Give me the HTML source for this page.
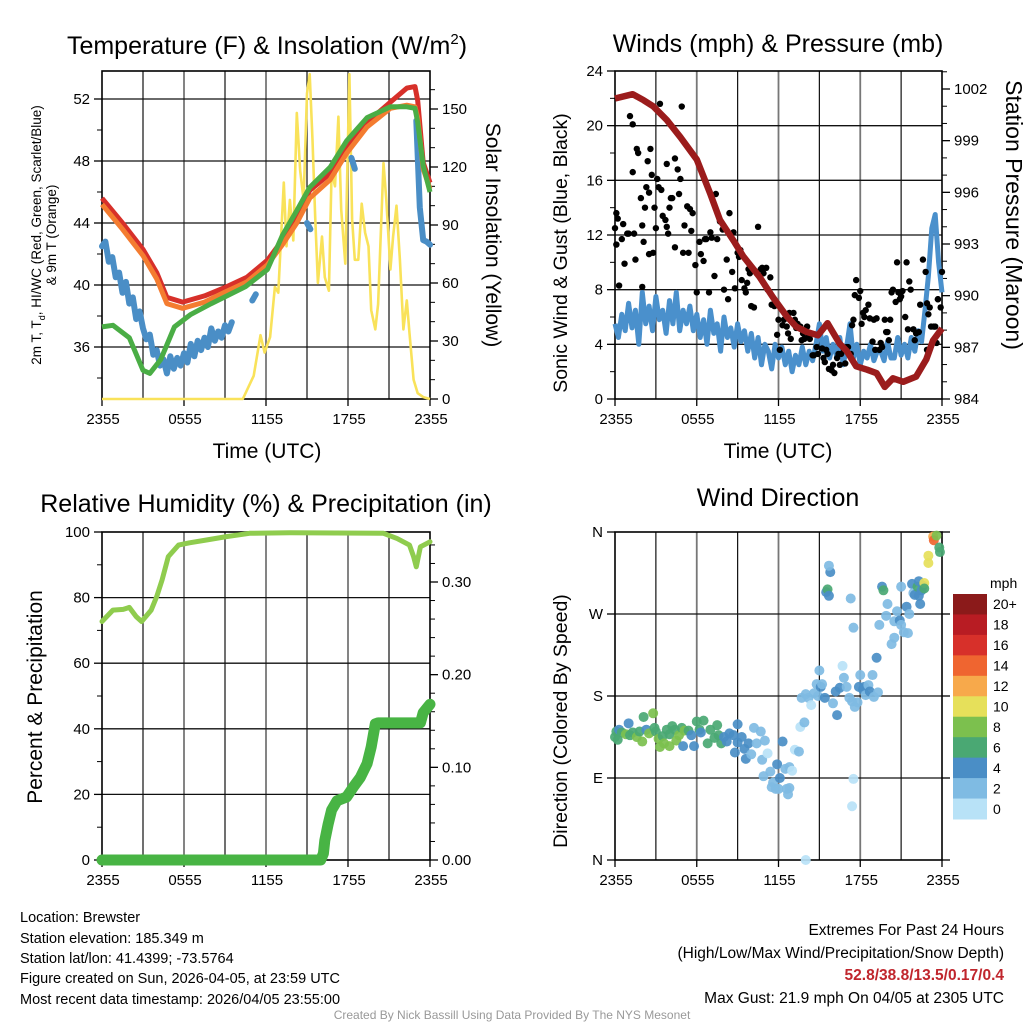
<!DOCTYPE html>
<html><head><meta charset="utf-8"><style>
html,body{margin:0;padding:0;background:#fff;}
svg{display:block;font-family:"Liberation Sans",sans-serif;}
</style></head><body>
<svg id="chart" xmlns="http://www.w3.org/2000/svg" width="1024" height="1024" viewBox="0 0 1024 1024">
<rect width="1024" height="1024" fill="#fff"/>
<text x="267" y="54" font-size="25" text-anchor="middle">Temperature (F) &amp; Insolation (W/m<tspan dy="-10" font-size="15">2</tspan><tspan dy="10">)</tspan></text>
<text x="778" y="52" font-size="25" text-anchor="middle">Winds (mph) &amp; Pressure (mb)</text>
<text x="266" y="512" font-size="25" text-anchor="middle">Relative Humidity (%) &amp; Precipitation (in)</text>
<text x="778" y="506" font-size="25" text-anchor="middle">Wind Direction</text>
<text x="267" y="458" font-size="21" text-anchor="middle">Time (UTC)</text>
<text x="778" y="458" font-size="21" text-anchor="middle">Time (UTC)</text>
<text transform="translate(41,235) rotate(-90)" font-size="13.5" text-anchor="middle">2m T, T<tspan dy="4" font-size="9">d</tspan><tspan dy="-4">, HI/WC (Red, Green, Scarlet/Blue)</tspan></text>
<text transform="translate(56,235) rotate(-90)" font-size="13.5" text-anchor="middle">&amp; 9m T (Orange)</text>
<text transform="translate(486,235) rotate(90)" font-size="21" text-anchor="middle">Solar Insolation (Yellow)</text>
<text transform="translate(567,253) rotate(-90)" font-size="19.5" text-anchor="middle">Sonic Wind &amp; Gust (Blue, Black)</text>
<text transform="translate(1006,215) rotate(90)" font-size="23" text-anchor="middle">Station Pressure (Maroon)</text>
<text transform="translate(42,697) rotate(-90)" font-size="21" text-anchor="middle">Percent &amp; Precipitation</text>
<text transform="translate(567,721) rotate(-90)" font-size="19.5" text-anchor="middle">Direction (Colored By Speed)</text>
<g font-size="14.5">
<text x="20" y="922">Location: Brewster</text>
<text x="20" y="943">Station elevation: 185.349 m</text>
<text x="20" y="963">Station lat/lon: 41.4399; -73.5764</text>
<text x="20" y="983">Figure created on Sun, 2026-04-05, at 23:59 UTC</text>
<text x="20" y="1004">Most recent data timestamp: 2026/04/05 23:55:00</text>
</g>
<g font-size="15.5" text-anchor="end">
<text x="1004" y="935">Extremes For Past 24 Hours</text>
<text x="1004" y="958">(High/Low/Max Wind/Precipitation/Snow Depth)</text>
<text x="1004" y="980" fill="#c0262d" font-weight="bold">52.8/38.8/13.5/0.17/0.4</text>
<text x="1004" y="1003">Max Gust: 21.9 mph On 04/05 at 2305 UTC</text>
</g>
<text x="512" y="1019" font-size="12" fill="#999" text-anchor="middle">Created By Nick Bassill Using Data Provided By The NYS Mesonet</text>
</svg>
<script>
// ---------- data ----------
const timeTickLabels = ["2355","0555","1155","1755","2355"];
const tempTickLabels = [36,40,44,48,52];
const insolTickLabels = [0,30,60,90,120,150];
const windTickLabels = [0,4,8,12,16,20,24];
const presTickLabels = [984,987,990,993,996,999,1002];
const rhTickLabels = [0,20,40,60,80,100];
const precipTickLabels = [0,0.1,0.2,0.3];
const dirTickLabels = ["N","E","S","W","N"];
const speedBins = ["0","2","4","6","8","10","12","14","16","18","20+"];

const redTimes = [0,1.5,3,4,4.75,5.9,7.5,8.9,10.6,12.1,13.2,14.25,15.2,16.7,17.9,19.4,21.1,22.3,22.9,23.1,23.5,24];
const redVals  = [45.6,44.0,42.3,40.8,39.2,38.9,39.3,39.8,40.5,41.6,42.9,44.4,46.1,47.2,48.9,50.5,51.8,52.7,52.8,51.9,47.9,46.6];
const orangeTimes = [0,1.5,3,4,4.75,5.9,7.5,8.9,10.6,12.1,13.2,14.25,15.2,16.7,17.9,19.4,21.1,22.3,22.9,23.1,23.5,24];
const orangeVals  = [45.2,43.6,41.9,40.4,38.8,38.5,38.9,39.5,40.2,41.3,42.6,44.0,45.6,46.8,48.5,50.2,51.4,51.6,51.5,50.8,47.5,46.2];
const greenTimes = [0,0.8,2,3,3.5,4.3,5.3,6.5,8,10.5,12.1,13.2,14.25,15.2,16.7,17.9,19.4,21.1,22.3,22.9,23.1,23.5,24];
const greenVals  = [37.3,37.4,36.6,34.5,34.3,35.2,37.3,38.1,38.8,39.9,41.0,43.2,44.8,46.3,47.6,49.3,50.8,51.5,51.5,51.4,50.5,47.7,46.0];
const dewVals = [42.5,42.8,41.5,41.8,40.5,40.8,39.5,40.2,38.8,39.2,37.8,38.3,37.2,
 36.5,36.8,35.5,35.8,34.8,35.2,34.3,35.4,34.6,35.3,34.8,35.6,
 35.0,36.2,35.4,36.4,35.8,36.6,36.0,37.2,36.4,37.0,36.6,37.4,
 37.0,37.6,null,38.0,null,38.4,null,39.0,39.4,null,null,null,
 null,null,null,null,null,null,null,null,null,null,null,44.0,
 43.6,null,null,null,null,null,null,null,null,null,null,null,
 48.2,47.5,null,null,null,null,null,49.0,null,null,null,null,
 null,null,null,null,null,null,null,50.6,45.0,42.9,42.8,42.6];
const insolTimes = [0,10.3,11.1,11.6,11.9,12.3,12.65,12.9,13.3,13.5,13.75,14,14.25,14.5,14.75,15,15.2,15.4,15.6,15.8,16.1,16.3,16.6,16.8,17.05,17.3,17.5,17.8,18.1,18.3,18.5,18.75,19,19.25,19.5,19.7,20,20.2,20.6,20.8,21.1,21.3,21.55,21.8,22.05,22.3,22.5,22.8,23.1,23.5,24];
const insolVals  = [0,0,12,33,24,32,58,55,112,79,103,82,148,118,103,158,168,134,94,60,84,63,56,118,110,146,98,70,168,93,72,72,101,86,79,46,36,49,122,103,67,84,100,72,36,51,34,10,3,1,0];

const windVals = [5.5,4.5,6.2,5,7,5.2,6.5,4,7.8,5.5,6.8,5,7.5,5.8,6.5,4.8,7.2,5.5,7.8,5,6.5,
 5.5,6.8,5,6.2,4.5,5.8,4,6.5,4.8,5.5,3.5,6,4.5,5.2,3.8,5.5,4.2,5,3.5,
 4.8,3,4.5,2.5,4,3.5,2.2,4,3,3.8,2.5,3.5,2,3.2,2.5,3.8,2.5,3.5,2.8,
 4,5.5,3.5,4.5,3,4,3.2,4.5,2.5,3.8,5.5,3,4,2.5,3.5,3,4,2.8,3.5,3.5,2.8,4.2,3,
 3,4.5,3.2,4,3,4.5,3.5,5,4.2,6.5,9,12.5,13.5,10,7.8];
const presTimes = [0,1.3,2.1,2.8,3.8,4.8,6,7,7.7,8.7,9.4,10.6,11.6,12.6,13.3,14.05,14.9,15.6,16.5,17,17.7,18.5,19.2,19.8,20.4,21.15,22.1,22.85,23.35,24];
const presVals  = [1001.45,1001.7,1001.35,1001.0,1000.2,999.2,997.9,995.9,994.4,993.2,992.3,991.1,989.9,988.8,988.2,987.9,987.7,988.4,987.2,986.8,985.9,985.7,985.5,984.7,985.2,985.0,985.3,986.3,987.4,988.1];
const gustTimes = [0,0.1,0.1,0.2,0.3,0.5,0.6,0.7,0.9,1.0,1.1,1.3,1.3,1.4,1.5,1.6,1.7,1.9,2.0,2.0,2.1,2.2,2.3,2.4,2.5,2.5,2.6,2.7,2.8,2.9,3.0,3.1,3.2,3.3,3.4,3.5,3.7,3.8,3.8,3.9,4.0,4.1,4.2,4.4,4.4,4.6,4.7,4.8,4.9,5.0,5.1,5.3,5.4,5.5,5.6,5.7,5.9,6.0,6.2,6.3,6.5,6.6,6.7,6.9,7.0,7.1,7.3,7.4,7.5,7.7,7.9,8.0,8.2,8.3,8.4,8.6,8.7,8.8,9.0,9.1,9.2,9.3,9.5,9.6,9.7,9.8,9.9,10.0,10.2,10.4,10.5,10.7,10.8,10.9,11.1,11.2,11.4,11.5,11.6,11.7,11.9,12.0,12.1,12.3,12.4,12.6,12.7,12.8,12.9,13.1,13.2,13.3,13.4,13.6,13.7,13.8,13.9,14.1,14.2,14.3,14.5,14.6,14.8,14.9,15.2,15.3,15.4,15.5,15.6,15.7,15.9,16.0,16.1,16.3,16.4,16.5,16.6,16.8,16.9,17.0,17.1,17.3,17.4,17.5,17.6,17.7,17.9,18.0,18.1,18.2,18.3,18.4,18.6,18.7,18.9,19.0,19.1,19.2,19.4,19.5,19.6,19.8,19.9,20.0,20.1,20.2,20.3,20.4,20.6,20.7,20.8,20.9,21.0,21.1,21.3,21.4,21.5,21.6,21.7,21.9,22.0,22.1,22.3,22.4,22.6,22.8,22.9,22.9,23.0,23.1,23.2,23.4,23.5,23.6,23.7,23.7,23.9,24.0];
const gustVals = [12.5,13.6,11.3,13.2,8.3,11.7,12.8,9.9,12.1,12.1,20.7,16.6,20.1,12.1,10.2,18.3,18,14.7,12.7,8.2,11.5,14,15.5,17.4,10.6,15.1,18.3,16.4,10.7,14,12.5,16.1,15.5,21.6,15.3,13.4,13.1,12.6,17.2,12.1,14,14.7,14.7,11.1,17.6,16.8,15,16.1,21.4,10.7,12.7,14.1,10.7,13.9,12.3,13.6,9.8,7.8,11.5,10.6,10.1,11.7,11.7,7.8,12.2,11.8,9,15,11.7,13,12.4,8,10.2,7.3,13.6,9.3,12.2,8.1,10.7,10.4,10.9,8.7,8.1,7.8,8.5,9.5,9.2,6.8,6.7,9.2,12.6,9.5,9.6,9.2,9.6,8,8.9,6.9,6.9,6.8,4.7,5.8,3.6,5.4,5.8,5.3,4.8,6.3,4.4,6.3,5.8,5.2,5.5,5.3,4.3,4.8,4.4,5.3,4.6,4.4,3.2,3.2,3.8,3.3,3.7,3,2.7,3.6,3.3,2.2,2.1,2.5,1.9,3,3.3,2.5,3.3,3.6,2.6,3.8,3.8,3.3,5.4,5.8,7.6,8.7,7.4,7.9,5.5,6.3,6,6.5,6.9,5.9,4.2,5.8,3.6,5.9,3.6,4.1,3.8,5.8,4.9,4.9,4.3,5.8,7.8,8,7.1,10,7.8,7.3,7.5,7.9,6,10,5.1,8.6,8,5.1,4.3,4.8,4.9,6.9,10.2,9.3,3.6,7,6.2,6.7,5.3,5.3,5.3,4.1,7.3,7.3,6.7,9.3,7.8,5.5,8.4,8.5,6.8,8,6.7,8.6,15.2,14.1,18.6,18.9,20.7,21.9,21.4,15.9,16.9,17.7,14.7,13.7,13.7,12.2];

const rhTimes = [0,0.8,1.55,2,2.5,2.9,3.6,4,4.4,4.85,5.6,6.4,7.7,9.1,10.8,13.75,20.6,21.6,22.5,22.8,23,23.3,24];
const rhVals  = [72.7,76.2,76.4,77,74.2,72.7,76.2,80.3,85.4,92.5,96,96.7,97.6,98.6,99.6,99.8,99.6,98,96,92.5,89.4,95.5,97];
const precipTimes = [0,16.0,16.2,16.3,16.55,16.8,17.2,17.9,18.4,18.9,19.4,19.7,20,20.2,23.3,23.5,24];
const precipVals  = [0,0,0.007,0.021,0.039,0.054,0.064,0.068,0.079,0.089,0.104,0.122,0.147,0.148,0.148,0.159,0.168];

const dirTimes = [0,0.1,0.2,0.3,0.5,0.8,1,1.1,1.3,1.6,1.8,2,2.1,2.3,2.5,2.8,2.9,3,3.2,3.3,3.5,3.6,3.8,4,4,4.2,4.4,4.5,4.7,4.9,5,5.1,5.4,5.6,5.8,6,6.2,6.3,6.5,6.8,7,7.3,7.5,7.6,7.8,8,8.2,8.4,8.7,8.8,9,9,9.3,9.5,9.6,9.8,10,10.2,10.4,10.7,10.8,10.9,11,11.2,11.4,11.5,11.6,11.9,11.8,12,12.1,12.3,12.5,12.6,12.8,12.7,12.8,13,13.2,13.5,13.6,13.7,13.9,14,14,14.2,14.4,14.6,14.8,14.9,15,15.1,15.2,15.4,15.5,15.6,15.7,15.8,15.7,16,16.2,16.3,16.5,16.7,16.8,17,17.2,17.3,17.4,17.5,17.4,17.5,17.6,17.8,17.9,18,18.2,18.3,18.4,18.6,18.7,18.9,19,19.2,19.3,19.4,19.6,19.7,19.9,20,20.3,20.5,20.5,20.7,20.9,21,21,21.2,21.4,21.5,21.6,21.8,21.9,22,22.2,22.3,22.3,22.4,22.5,22.6,22.7,22.7,23,23,23.35,23.4,23.6,23.8,23.85];
const dirVals = [135,141,132,143,140,138,150,137,140,135,141,130,157,143,139,161,145,141,133,124,136,128,143,138,125,147,143,131,137,145,125,142,142,137,125,152,143,140,153,128,143,134,148,137,128,135,130,139,137,118,149,129,135,122,111,128,116,145,128,141,110,92,131,117,97,80,85,105,78,78,90,130,100,78,79,72,102,98,121,119,146,178,151,182,0,178,170,183,193,180,208,190,193,178,294,297,290,316,323,172,185,159,189,213,200,190,178,287,174,89,59,255,168,173,190,203,187,190,181,192,185,203,179,222,184,258,300,296,268,281,237,244,262,273,263,258,300,250,278,249,270,303,293,291,300,290,306,281,296,301,304,298,326,334,355,351,356,343,338];
const dirSpeeds = [7,6,6,5,7,8,4,7,6,8,7,8,6,5,8,8,6,7,8,8,7,8,7,6,8,6,7,8,8,7,4,8,6,4,4,6,6,4,7,6,6,6,6,7,6,4,4,4,4,4,4,4,4,4,4,4,2,2,2,2,2,2,2,0,2,2,2,4,2,2,4,4,2,2,2,2,2,0,0,2,0,2,2,2,0,2,0,2,2,2,2,4,2,4,4,6,4,4,2,2,4,4,4,0,2,2,2,2,2,0,0,2,2,2,4,2,4,4,2,2,4,2,2,4,2,2,4,6,2,2,2,2,2,2,4,2,2,2,4,2,2,4,2,4,6,4,4,4,4,4,10,6,10,10,12,14,8,6,6];

// ---------- drawing ----------
const svg = document.getElementById('chart');
const NS = 'http://www.w3.org/2000/svg';
function mk(tag, attrs, parent){const e=document.createElementNS(NS,tag);for(const k in attrs)e.setAttribute(k,attrs[k]);(parent||svg).appendChild(e);return e;}
function lin(d0,d1,r0,r1){return v=>r0+(v-d0)*(r1-r0)/(d1-d0);}

function panelFrame(name,x0,x1,y0,y1){
  const g=mk('g',{});
  
  
  const xs=lin(0,24,x0,x1);
  for(let h=3;h<24;h+=3){
    mk('line',{x1:xs(h),x2:xs(h),y1:y0,y2:y1,stroke:h%6===0?'#777':'#111','stroke-width':h%6===0?1.8:1.2},g);
  }
  for(let i=0;i<5;i++){
    const h=i*6;
    mk('line',{x1:xs(h),x2:xs(h),y1:y1,y2:y1+7,stroke:'#000','stroke-width':1.3},g);
    const t=mk('text',{x:xs(h)+1,y:y1+25,'font-size':15,'text-anchor':'middle'},g);
    t.textContent=timeTickLabels[i];
    
    
  }
  return {xs,g};
}
function hLine(g,y,x0,x1){mk('line',{x1:x0,x2:x1,y1:y,y2:y,stroke:'#111','stroke-width':1.3},g);}
function leftTicks(g,x,ys,vals,minorVals,fmt){
  vals.forEach(v=>{const y=ys(v);mk('line',{x1:x-8,x2:x,y1:y,y2:y,stroke:'#000','stroke-width':1.3},g);
    const t=mk('text',{x:x-12,y:y+5,'font-size':15,'text-anchor':'end'},g);t.textContent=fmt?fmt(v):v;
    
    });
  minorVals.forEach(v=>{const y=ys(v);mk('line',{x1:x-5,x2:x,y1:y,y2:y,stroke:'#000','stroke-width':1},g);});
}
function rightTicks(g,x,ys,vals,minorVals,fmt){
  vals.forEach(v=>{const y=ys(v);mk('line',{x1:x,x2:x+8,y1:y,y2:y,stroke:'#000','stroke-width':1.3},g);
    const t=mk('text',{x:x+12,y:y+5,'font-size':15,'text-anchor':'start'},g);t.textContent=fmt?fmt(v):v;
    
    });
  minorVals.forEach(v=>{const y=ys(v);mk('line',{x1:x,x2:x+5,y1:y,y2:y,stroke:'#000','stroke-width':1},g);});
}
function border(g,x0,x1,y0,y1){mk('rect',{x:x0,y:y0,width:x1-x0,height:y1-y0,fill:'none',stroke:'#000','stroke-width':1.6},g);}
function pathFrom(times,vals,xs,ys){let d='';let pen=false;for(let i=0;i<vals.length;i++){if(vals[i]===null){pen=false;continue;}d+=(pen?'L':'M')+xs(times[i]).toFixed(1)+','+ys(vals[i]).toFixed(1);pen=true;}return d;}
function idxTimes(arr){return arr.map((_,i)=>i*24/(arr.length-1));}

// Panel 1
(function(){
  const x0=102,x1=430,y0=71,y1=399;
  const {xs,g}=panelFrame('temp',x0,x1,y0,y1);
  const ty=lin(52,48,99,161), iy=lin(0,150,399,109);
  tempTickLabels.forEach(v=>hLine(g,ty(v),x0,x1));
  leftTicks(g,x0,ty,tempTickLabels,[34,38,42,46,50,54].filter(v=>ty(v)>=y0));
  rightTicks(g,x1,iy,insolTickLabels,[10,20,40,50,70,80,100,110,130,140,160]);
  let p=mk('path',{d:pathFrom(insolTimes,insolVals,xs,iy),fill:'none',stroke:'#f9e25a','stroke-width':2.6,'stroke-linejoin':'round'});
   
  p=mk('path',{d:pathFrom(idxTimes(dewVals),dewVals,xs,ty),fill:'none',stroke:'#4a8ec6','stroke-width':6,'stroke-linecap':'round','stroke-linejoin':'round'});
   
  p=mk('path',{d:pathFrom(redTimes,redVals,xs,ty),fill:'none',stroke:'#d7302a','stroke-width':5,'stroke-linejoin':'round'});
   
  p=mk('path',{d:pathFrom(orangeTimes,orangeVals,xs,ty),fill:'none',stroke:'#f47c30','stroke-width':5,'stroke-linejoin':'round'});
   
  p=mk('path',{d:pathFrom(greenTimes,greenVals,xs,ty),fill:'none',stroke:'#4aad45','stroke-width':5,'stroke-linejoin':'round'});
   
  border(g,x0,x1,y0,y1);
})();

// Panel 2
(function(){
  const x0=615,x1=942,y0=71,y1=399;
  const {xs,g}=panelFrame('wind',x0,x1,y0,y1);
  const wy=lin(0,24,399,71), py=lin(984,1002,399,89);
  [4,8,12,16,20].forEach(v=>hLine(g,wy(v),x0,x1));
  leftTicks(g,x0,wy,windTickLabels,[2,6,10,14,18,22]);
  rightTicks(g,x1,py,presTickLabels,[985,986,988,989,991,992,994,995,997,998,1000,1001,1003]);
  let p=mk('path',{d:pathFrom(idxTimes(windVals),windVals,xs,wy),fill:'none',stroke:'#4a90cc','stroke-width':5,'stroke-linejoin':'round'});
   
  gustTimes.forEach((t,i)=>{
    const c=mk('circle',{cx:xs(t),cy:wy(gustVals[i]),r:3.2,fill:'#000'});
    
    
  });
  p=mk('path',{d:pathFrom(presTimes,presVals,xs,py),fill:'none',stroke:'#9b1c1c','stroke-width':6.5,'stroke-linejoin':'round'});
   
  border(g,x0,x1,y0,y1);
})();

// Panel 3
(function(){
  const x0=102,x1=430,y0=532,y1=860;
  const {xs,g}=panelFrame('rh',x0,x1,y0,y1);
  const ry=lin(0,100,860,532), py=lin(0,0.3,860,582);
  [20,40,60,80].forEach(v=>hLine(g,ry(v),x0,x1));
  leftTicks(g,x0,ry,rhTickLabels,[10,30,50,70,90]);
  rightTicks(g,x1,py,precipTickLabels,[0.02,0.04,0.06,0.08,0.12,0.14,0.16,0.18,0.22,0.24,0.26,0.28,0.32,0.34],v=>v.toFixed(2));
  let p=mk('path',{d:pathFrom(rhTimes,rhVals,xs,ry),fill:'none',stroke:'#8fcc4e','stroke-width':5,'stroke-linejoin':'round','stroke-linecap':'round'});
   
  p=mk('path',{d:pathFrom(precipTimes,precipVals,xs,py),fill:'none',stroke:'#48b444','stroke-width':11,'stroke-linejoin':'round','stroke-linecap':'round'});
   
  border(g,x0,x1,y0,y1);
})();

// Panel 4
const binColors=['#b8e2f7','#7fbbe3','#4a8ec6','#4aa873','#7cc04e','#e6e05a','#f7a94b','#ef6530','#d7302a','#b81c23','#8b1a1a'];
(function(){
  const x0=615,x1=942,y0=532,y1=860;
  const {xs,g}=panelFrame('direction',x0,x1,y0,y1);
  const dy=lin(0,360,860,532);
  [90,180,270].forEach(v=>hLine(g,dy(v),x0,x1));
  [0,90,180,270,360].forEach((v,i)=>{const y=dy(v);mk('line',{x1:x0-8,x2:x0,y1:y,y2:y,stroke:'#000','stroke-width':1.3},g);
    const t=mk('text',{x:x0-12,y:y+5,'font-size':15,'text-anchor':'end'},g);t.textContent=dirTickLabels[i];
    
    
    mk('line',{x1:x1,x2:x1+8,y1:y,y2:y,stroke:'#000','stroke-width':1.3},g);});
  border(g,x0,x1,y0,y1);
  dirTimes.forEach((t,i)=>{
    const bin=Math.min(10,Math.floor(dirSpeeds[i]/2));
    const c=mk('circle',{cx:xs(t),cy:dy(dirVals[i]),r:5,fill:binColors[bin],'fill-opacity':0.92});
    
    
  });
  const cb=mk('g',{});
  
  
  const top=594,bh=(819-594)/11;
  const tl=mk('text',{x:990,y:588,'font-size':14},cb);tl.textContent='mph';
   
  for(let i=0;i<11;i++){
    const bi=10-i;
    mk('rect',{x:953,y:top+i*bh,width:34,height:bh+0.5,fill:binColors[bi]},cb);
    const t=mk('text',{x:993,y:top+i*bh+bh/2+5,'font-size':14},cb);t.textContent=speedBins[bi];
    
    
  }
})();
</script>
</body></html>
